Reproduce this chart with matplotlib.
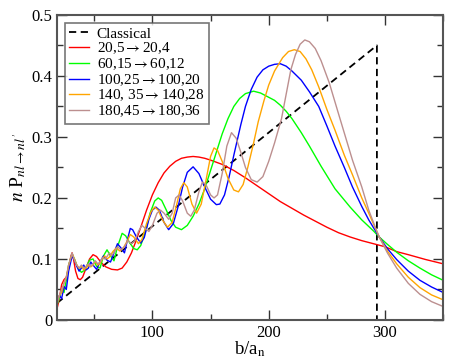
import matplotlib
matplotlib.use("Agg")
import matplotlib.pyplot as plt
from matplotlib.ticker import MultipleLocator, FuncFormatter

plt.rcParams["font.family"] = "serif"
plt.rcParams["font.serif"] = ["Liberation Serif", "DejaVu Serif"]
plt.rcParams["mathtext.fontset"] = "stix"

# classical result
classical_x = [18, 293, 293, 350]
classical_y = [0.0276, 0.45, 0.0, 0.0]

# 20,5 -> 20,4
red_x = [18, 20, 22, 24, 26, 28, 30, 31, 32, 34, 36, 38, 40, 43, 46, 49, 52, 56, 60, 65, 70, 74,
         78, 82, 86, 90, 95, 100, 105, 110, 115, 120, 125, 130, 135, 140, 145, 150, 160, 170,
         180, 190, 200, 210, 220, 230, 240, 250, 260, 270, 280, 290, 300, 310, 320, 335, 350]
red_y = [0.018, 0.035, 0.058, 0.066, 0.07, 0.085, 0.105, 0.11, 0.102, 0.08, 0.068, 0.066, 0.07,
         0.085, 0.1, 0.107, 0.104, 0.094, 0.087, 0.083, 0.082, 0.085, 0.095, 0.11, 0.13, 0.152,
         0.18, 0.205, 0.225, 0.241, 0.252, 0.26, 0.265, 0.267, 0.268, 0.267, 0.265, 0.262, 0.255,
         0.245, 0.233, 0.22, 0.207, 0.194, 0.183, 0.172, 0.162, 0.152, 0.143, 0.136, 0.13, 0.125,
         0.12, 0.112, 0.107, 0.099, 0.092]

# 60,15 -> 60,12
green_x = [18, 20, 22, 24, 26, 28, 31, 33, 36, 39, 42, 46, 49, 52, 55, 58, 61, 64, 67, 70, 74, 77,
           80, 84, 87, 90, 94, 98, 102, 105, 108, 112, 116, 120, 125, 130, 135, 140, 145, 150, 155,
           160, 165, 170, 175, 180, 187, 193, 200, 205, 210, 215, 220, 228, 235, 245, 257, 270, 280,
           290, 295, 302, 310, 320, 330, 340, 350]
green_y = [0.025, 0.035, 0.05, 0.045, 0.065, 0.09, 0.108, 0.1, 0.085, 0.078, 0.082, 0.098, 0.1,
           0.088, 0.085, 0.105, 0.115, 0.105, 0.097, 0.12, 0.142, 0.138, 0.128, 0.117, 0.115, 0.122,
           0.145, 0.175, 0.195, 0.2, 0.196, 0.18, 0.163, 0.152, 0.148, 0.155, 0.17, 0.19, 0.215,
           0.245, 0.275, 0.305, 0.33, 0.35, 0.363, 0.371, 0.375, 0.372, 0.365, 0.36, 0.352, 0.342,
           0.33, 0.307, 0.285, 0.252, 0.215, 0.185, 0.164, 0.146, 0.136, 0.124, 0.111, 0.097, 0.085,
           0.074, 0.065]

# 100,25 -> 100,20
blue_x = [18, 20, 22, 24, 26, 28, 31, 33, 35, 37, 39, 41, 43, 45, 47, 49, 52, 55, 58, 61, 64, 67,
          70, 73, 76, 79, 81, 83, 86, 90, 93, 97, 100, 103, 106, 110, 114, 118, 122, 126, 130, 135,
          140, 145, 150, 155, 158, 162, 166, 170, 176, 180, 185, 190, 195, 200, 205, 210, 215, 220,
          228, 235, 243, 250, 257, 265, 272, 280, 286, 295, 302, 310, 320, 330, 340, 350]
blue_y = [0.03, 0.04, 0.035, 0.055, 0.05, 0.08, 0.105, 0.098, 0.088, 0.08, 0.085, 0.09, 0.082,
          0.085, 0.095, 0.09, 0.083, 0.095, 0.105, 0.098, 0.095, 0.11, 0.125, 0.118, 0.11, 0.135,
          0.15, 0.148, 0.137, 0.126, 0.135, 0.165, 0.18, 0.185, 0.18, 0.16, 0.148, 0.158, 0.185,
          0.218, 0.242, 0.251, 0.24, 0.218, 0.198, 0.189, 0.19, 0.205, 0.235, 0.27, 0.32, 0.35,
          0.378, 0.398, 0.41, 0.416, 0.419, 0.42, 0.416, 0.408, 0.393, 0.374, 0.35, 0.318, 0.285,
          0.25, 0.218, 0.186, 0.164, 0.136, 0.117, 0.099, 0.08, 0.065, 0.054, 0.045]

# 140,35 -> 140,28
orange_x = [18, 20, 22, 24, 26, 28, 31, 33, 35, 37, 39, 41, 43, 45, 47, 49, 51, 53, 55, 57, 59, 61,
            63, 66, 69, 72, 75, 78, 81, 84, 88, 91, 95, 99, 102, 105, 109, 113, 117, 121, 124, 127,
            130, 134, 138, 142, 146, 150, 153, 156, 160, 165, 170, 174, 178, 182, 187, 191, 196,
            200, 205, 212, 217, 222, 227, 232, 237, 243, 250, 257, 265, 272, 280, 286, 295, 302,
            310, 320, 330, 340, 350]
orange_y = [0.028, 0.04, 0.045, 0.06, 0.07, 0.09, 0.108, 0.1, 0.09, 0.085, 0.088, 0.082, 0.085,
            0.09, 0.087, 0.09, 0.096, 0.09, 0.093, 0.1, 0.105, 0.1, 0.103, 0.112, 0.118, 0.113,
            0.118, 0.128, 0.14, 0.136, 0.125, 0.132, 0.158, 0.178, 0.185, 0.18, 0.163, 0.152, 0.16,
            0.19, 0.215, 0.225, 0.218, 0.19, 0.175, 0.19, 0.228, 0.268, 0.282, 0.278, 0.26, 0.232,
            0.213, 0.21, 0.222, 0.25, 0.29, 0.325, 0.36, 0.385, 0.408, 0.43, 0.44, 0.443, 0.44,
            0.428, 0.41, 0.382, 0.345, 0.311, 0.27, 0.238, 0.2, 0.175, 0.136, 0.113, 0.092, 0.07,
            0.053, 0.041, 0.033]

# 180,45 -> 180,36
brown_x = [18, 20, 22, 24, 26, 28, 31, 33, 35, 37, 39, 41, 43, 45, 47, 49, 51, 53, 55, 57, 59, 61,
           63, 65, 67, 70, 73, 76, 79, 82, 85, 88, 91, 94, 97, 100, 104, 107, 110, 114, 117, 120,
           123, 126, 130, 133, 136, 140, 143, 146, 150, 153, 156, 160, 164, 168, 172, 176, 180, 185,
           190, 195, 200, 205, 211, 215, 219, 223, 227, 231, 235, 240, 245, 252, 260, 266, 272, 280,
           286, 291, 295, 302, 310, 320, 330, 340, 350]
brown_y = [0.025, 0.04, 0.05, 0.06, 0.07, 0.09, 0.11, 0.098, 0.09, 0.085, 0.09, 0.085, 0.088, 0.092,
           0.088, 0.092, 0.097, 0.092, 0.095, 0.102, 0.1, 0.104, 0.11, 0.106, 0.11, 0.12, 0.115,
           0.12, 0.13, 0.125, 0.13, 0.145, 0.155, 0.15, 0.145, 0.155, 0.175, 0.18, 0.175, 0.165,
           0.175, 0.2, 0.205, 0.195, 0.175, 0.17, 0.18, 0.21, 0.226, 0.222, 0.205, 0.2, 0.205,
           0.24, 0.285, 0.307, 0.298, 0.275, 0.25, 0.23, 0.226, 0.235, 0.26, 0.29, 0.33, 0.37,
           0.41, 0.435, 0.452, 0.459, 0.456, 0.445, 0.425, 0.389, 0.338, 0.3, 0.262, 0.218, 0.18,
           0.155, 0.136, 0.11, 0.085, 0.06, 0.042, 0.03, 0.022]

labels = ["Classical", r"20,5$\rightarrow$20,4", r"60,15$\rightarrow$60,12",
          r"100,25$\rightarrow$100,20", r"140, 35$\rightarrow$140,28", r"180,45$\rightarrow$180,36"]

fig = plt.figure(figsize=(4.71, 3.64), dpi=100)
ax = fig.add_axes([0.121, 0.121, 0.82, 0.838])

ax.plot(classical_x, classical_y, color="black", ls=(0, (4, 2.5)), lw=1.3, label=labels[0])
ax.plot(red_x, red_y, color="#ff0000", lw=1.0, label=labels[1])
ax.plot(green_x, green_y, color="#00ff00", lw=1.0, label=labels[2])
ax.plot(blue_x, blue_y, color="#0000ff", lw=1.0, label=labels[3])
ax.plot(orange_x, orange_y, color="#ffa500", lw=1.0, label=labels[4])
ax.plot(brown_x, brown_y, color="#bc8f8f", lw=1.0, label=labels[5])

ax.set_xlim(18, 350)
ax.set_ylim(0, 0.5)
ax.xaxis.set_major_locator(MultipleLocator(100))
ax.xaxis.set_minor_locator(MultipleLocator(50))
ax.yaxis.set_major_locator(MultipleLocator(0.1))
ax.yaxis.set_minor_locator(MultipleLocator(0.05))
ax.yaxis.set_major_formatter(FuncFormatter(lambda v, p: "0" if abs(v) < 1e-9 else f"{v:.1f}"))
ax.tick_params(which="both", direction="in", top=True, right=True, labelsize=12, colors="#333333",
               labelcolor="black")
ax.tick_params(which="major", length=7, width=1)
ax.tick_params(which="minor", length=4, width=1)
for s in ax.spines.values():
    s.set_color("#555555")
    s.set_linewidth(1.5)

ax.set_xlabel(r"b/a$_{\rm n}$", fontsize=13.5, labelpad=-1)
ax.set_ylabel(r"$n$ P$_{nl\rightarrow nl'}$", fontsize=14, labelpad=2)

leg = ax.legend(loc="upper left", fontsize=11, frameon=True, fancybox=False, handlelength=1.3,
                handletextpad=0.5, labelspacing=0.0, borderpad=0.3, borderaxespad=0.5)
leg.get_frame().set_edgecolor("#555555")
leg.get_frame().set_linewidth(1.2)

fig.savefig("out.png", dpi=100)
